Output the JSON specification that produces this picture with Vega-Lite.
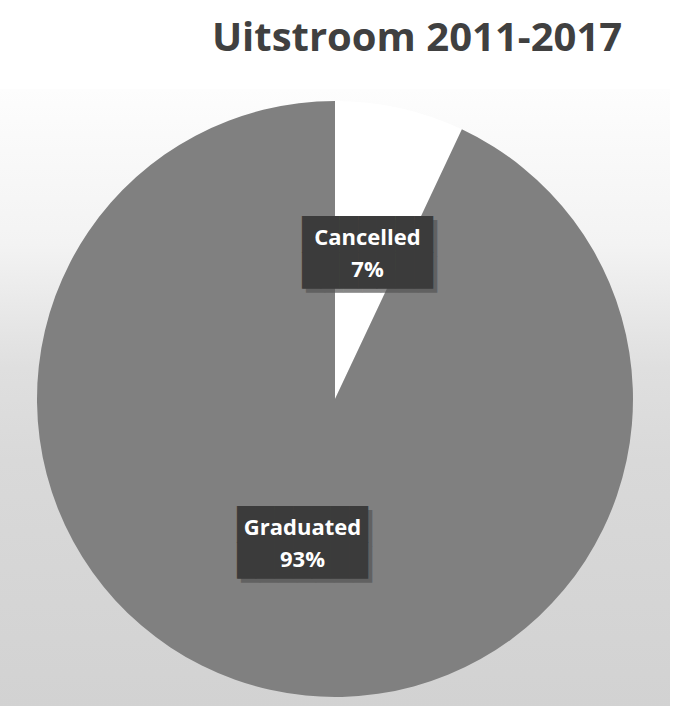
{
  "$schema": "https://vega.github.io/schema/vega-lite/v6.json",
  "width": 670,
  "height": 620,
  "padding": {"left": 0, "right": 11, "top": 19, "bottom": 0},
  "background": "white",
  "view": {
    "stroke": null,
    "fill": {
      "gradient": "linear",
      "x1": 0, "y1": 0, "x2": 0, "y2": 1,
      "stops": [
        {"offset": 0, "color": "#fdfdfd"},
        {"offset": 0.25, "color": "#f3f3f3"},
        {"offset": 0.45, "color": "#dfdfdf"},
        {"offset": 0.6, "color": "#d9d9d9"},
        {"offset": 1, "color": "#d2d2d2"}
      ]
    }
  },
  "title": {
    "text": "Uitstroom 2011-2017",
    "font": "Open Sans",
    "fontSize": 40,
    "fontWeight": "bold",
    "color": "#404040",
    "anchor": "middle",
    "frame": "group",
    "dx": 82,
    "offset": 30
  },
  "data": {
    "values": [
      {"category": "Cancelled", "share": 0.07},
      {"category": "Graduated", "share": 0.93}
    ]
  },
  "encoding": {
    "theta": {"field": "share", "type": "quantitative", "stack": true},
    "order": {"field": "category", "type": "nominal"}
  },
  "layer": [
    {
      "mark": {"type": "arc", "radius": 298},
      "encoding": {
        "color": {
          "field": "category",
          "type": "nominal",
          "scale": {"domain": ["Cancelled", "Graduated"], "range": ["#ffffff", "#808080"]},
          "legend": null
        }
      }
    },
    {
      "mark": {
        "type": "text",
        "radius": 149,
        "text": ["███████", "███████"],
        "font": "DejaVu Sans Mono",
        "fontSize": 31,
        "lineHeight": 36,
        "baseline": "middle",
        "align": "center",
        "color": "#555555",
        "opacity": 0.7,
        "dx": 4,
        "dy": -14
      }
    },
    {
      "mark": {
        "type": "text",
        "radius": 149,
        "text": ["███████", "███████"],
        "font": "DejaVu Sans Mono",
        "fontSize": 31,
        "lineHeight": 36,
        "baseline": "middle",
        "align": "center",
        "color": "#3b3b3b",
        "dy": -18
      }
    },
    {
      "mark": {
        "type": "text",
        "radius": 149,
        "font": "Open Sans",
        "fontSize": 22,
        "fontWeight": "bold",
        "color": "#ffffff",
        "baseline": "middle",
        "dy": -16
      },
      "encoding": {"text": {"field": "category", "type": "nominal"}}
    },
    {
      "mark": {
        "type": "text",
        "radius": 149,
        "font": "Open Sans",
        "fontSize": 22,
        "fontWeight": "bold",
        "color": "#ffffff",
        "baseline": "middle",
        "dy": 16
      },
      "encoding": {"text": {"field": "share", "type": "quantitative", "format": ".0%"}}
    }
  ]
}
